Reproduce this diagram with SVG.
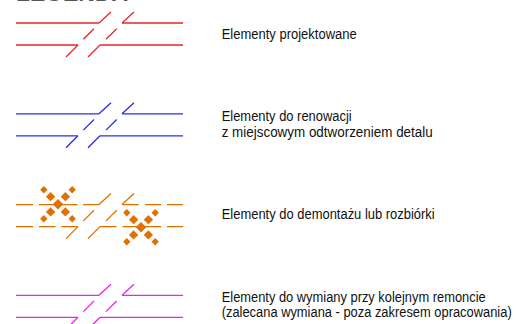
<svg xmlns="http://www.w3.org/2000/svg" xmlns:xlink="http://www.w3.org/1999/xlink" width="519" height="324" viewBox="0 0 519 324">
<style>
.lbl{font-family:"Liberation Sans",Arial,sans-serif;font-size:14px;fill:#111}
.ttl{font-family:"Liberation Sans",Arial,sans-serif;font-size:23px;font-weight:bold;fill:#555}
.ln{fill:none;stroke-width:1.3}
.red{stroke:#e8262b}
.blue{stroke:#2b2bee}
.org{stroke:#e07000}
.mag{stroke:#ee22ee}
.dm{fill:#e07000}
</style>
<defs>
<path id="diag" d="M99,23L111,12M122,23L134,12M83.3,39.3L94,28.7M106,39.3L116.7,28.7M78,45L66,57M100,45L88,57"/>
<path id="solid" d="M16,23H99M122,23H183M16,45H78M100,45H183"/>
<path id="dashed" d="M16,23H33M39,23H55.5M61,23H77.5M83,23H99M122,23H138.5M145,23H161M167,23H183M16,45H33M39,45H55.5M61.5,45H78M100,45H116.5M122.5,45H139M145,45H161M167,45H183"/>
<g id="cross">
<rect x="-3.7" y="-3.7" width="7.4" height="7.4" transform="rotate(45)"/>
<rect x="-3.3" y="-3.3" width="6.6" height="6.6" transform="translate(-7.4,-7.6) rotate(45)"/>
<rect x="-3.3" y="-3.3" width="6.6" height="6.6" transform="translate(7.4,-7.6) rotate(45)"/>
<rect x="-3.3" y="-3.3" width="6.6" height="6.6" transform="translate(-7.4,7.6) rotate(45)"/>
<rect x="-3.3" y="-3.3" width="6.6" height="6.6" transform="translate(7.4,7.6) rotate(45)"/>
<rect x="-2.6" y="-2.6" width="5.2" height="5.2" transform="translate(-14.2,-14.5) rotate(45)"/>
<rect x="-2.6" y="-2.6" width="5.2" height="5.2" transform="translate(14.2,-14.5) rotate(45)"/>
<rect x="-2.6" y="-2.6" width="5.2" height="5.2" transform="translate(-14.2,14.5) rotate(45)"/>
<rect x="-2.6" y="-2.6" width="5.2" height="5.2" transform="translate(14.2,14.5) rotate(45)"/>
</g>
</defs>
<g id="title">
<text class="ttl" x="16" y="1.2" textLength="112" lengthAdjust="spacingAndGlyphs">LEGENDA</text>
</g>
<g id="item-projektowane">
<use xlink:href="#solid" class="ln red"/>
<use xlink:href="#diag" class="ln red"/>
<text class="lbl" x="221.7" y="39" textLength="135" lengthAdjust="spacingAndGlyphs">Elementy projektowane</text>
</g>
<g id="item-renowacja">
<g transform="translate(0,90.8)">
<use xlink:href="#solid" class="ln blue"/>
<use xlink:href="#diag" class="ln blue"/>
</g>
<text class="lbl" x="221.7" y="121" textLength="130" lengthAdjust="spacingAndGlyphs">Elementy do renowacji</text>
<text class="lbl" x="221.7" y="137" textLength="211" lengthAdjust="spacingAndGlyphs">z miejscowym odtworzeniem detalu</text>
</g>
<g id="item-demontaz">
<g transform="translate(0,181.6)">
<use xlink:href="#dashed" class="ln org"/>
<use xlink:href="#diag" class="ln org"/>
</g>
<use xlink:href="#cross" class="dm" transform="translate(58,204.3)"/>
<use xlink:href="#cross" class="dm" transform="translate(141,227.3)"/>
<text class="lbl" x="221.7" y="219" textLength="213" lengthAdjust="spacingAndGlyphs">Elementy do demontażu lub rozbiórki</text>
</g>
<g id="item-wymiana">
<g transform="translate(0,272.3)">
<use xlink:href="#solid" class="ln mag"/>
<use xlink:href="#diag" class="ln mag"/>
</g>
<text class="lbl" x="221.7" y="301.5" textLength="264" lengthAdjust="spacingAndGlyphs">Elementy do wymiany przy kolejnym remoncie</text>
<text class="lbl" x="221.7" y="316.5" textLength="290" lengthAdjust="spacingAndGlyphs">(zalecana wymiana - poza zakresem opracowania)</text>
</g>
<g id="connectors"/>
</svg>
